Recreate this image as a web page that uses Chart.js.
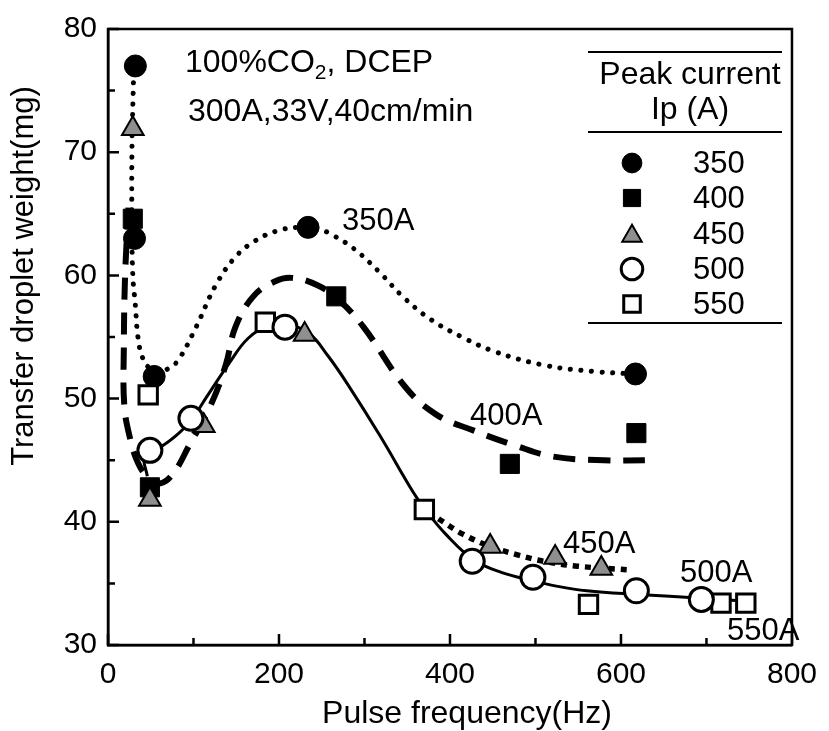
<!DOCTYPE html>
<html>
<head>
<meta charset="utf-8">
<script src="https://cdn.jsdelivr.net/npm/chart.js@4.4.1/dist/chart.umd.min.js"></script>
<style>
  html, body { margin: 0; background: #fff; }
  #wrap { width: 829px; height: 731px; position: relative; }
</style>
</head>
<body>
<div id="wrap"><canvas id="chart"></canvas></div>
<script>
// measured points, peak current series (Hz, mg)
const hz350 = [32, 31, 54, 234, 617];
const w350 = [77.0, 63.0, 51.8, 63.9, 52.0];
const hz400 = [29, 49, 267, 470, 618];
const w400 = [64.6, 42.8, 58.3, 44.7, 47.2];
const hz450 = [29, 49, 112, 230, 447, 523, 577];
const w450 = [71.9, 41.8, 47.8, 55.2, 38.0, 37.1, 36.2];
const hz500 = [49, 97, 207, 426, 497, 618, 694];
const w500 = [45.8, 48.4, 55.8, 36.8, 35.5, 34.4, 33.7];
const hz550 = [47, 184, 370, 562, 717, 746];
const w550 = [50.3, 56.2, 41.0, 33.3, 33.4, 33.4];

// fitted curves
const curveHz350 = [30, 28, 28, 29, 32, 35, 40, 48, 60, 72, 83, 103, 126, 149, 172, 197, 222, 245, 262, 287, 317, 346, 378, 414, 453, 511, 569, 617];
const curveW350 = [76.5, 70, 64, 60, 57.6, 55, 53.4, 52.5, 52.2, 52.5, 53.2, 55.8, 59.2, 61.5, 62.8, 63.6, 63.9, 63.8, 63.3, 62.2, 60.3, 58.2, 56.4, 55.0, 53.8, 52.7, 52.2, 52.0];
const curveHz400 = [24, 20, 18.5, 19, 25, 35, 48, 60, 75, 95, 121, 138, 149, 170, 195, 215, 245, 270, 299, 347, 384, 428, 476, 520, 580, 632];
const curveW400 = [65.5, 60, 54, 49.5, 47, 44.8, 43.5, 43.1, 43.8, 46.2, 49.6, 52.8, 55.8, 58.3, 59.5, 59.8, 59.2, 58, 55.8, 51, 48.7, 47.4, 46.2, 45.3, 45.0, 45.0];
const curveHz450 = [375, 392, 415, 447, 480, 509, 549, 609];
const curveW450 = [40.8, 40.0, 39.0, 38.0, 37.3, 36.8, 36.4, 36.1];
const curveHz500 = [46, 42, 50, 62, 83, 98, 115, 141, 164, 190, 210, 235, 257, 280, 318, 357, 371, 395, 428, 460, 498, 523, 560, 620, 694, 758];
const curveW500 = [43.7, 45.3, 45.8, 46.1, 47.2, 48.3, 50.1, 52.8, 54.9, 56.0, 56.0, 55.3, 53.5, 51.2, 47.0, 42.4, 41.0, 39.0, 36.9, 35.9, 35.2, 34.8, 34.4, 34.1, 33.8, 33.5];

const xTicks = [0, 200, 400, 600, 800];
const yTicks = [30, 40, 50, 60, 70, 80];
const legendLabels = ['350', '400', '450', '500', '550'];
const curveLabels = ['350A', '400A', '450A', '500A', '550A'];

const FONT = '"Liberation Sans", Arial, sans-serif';
const GREY = '#8f8f8f';
const pts = (xs, ys) => xs.map((x, i) => ({ x, y: ys[i] }));

const markers = [
  { style: 'circle', r: 11, fill: '#000', border: '#000', bw: 1 },
  { style: 'rect', r: 13.5, fill: '#000', border: '#000', bw: 1 },
  { style: 'triangle', r: 12.5, fill: GREY, border: '#000', bw: 2 },
  { style: 'circle', r: 12, fill: '#fff', border: '#000', bw: 3 },
  { style: 'rect', r: 13, fill: '#fff', border: '#000', bw: 3 }
];
// lower order is drawn on top: open circles sit over the open squares
const stackOrder = [5, 4, 3, 1, 2];
const seriesHz = [hz350, hz400, hz450, hz500, hz550];
const seriesW = [w350, w400, w450, w500, w550];

const pointSets = seriesHz.map((hz, i) => ({
  label: legendLabels[i],
  data: pts(hz, seriesW[i]),
  showLine: false,
  pointStyle: markers[i].style,
  pointRadius: markers[i].r,
  pointBackgroundColor: markers[i].fill,
  pointBorderColor: markers[i].border,
  pointBorderWidth: markers[i].bw,
  order: stackOrder[i]
}));

const curve = (hz, w, opts) => Object.assign({
  data: pts(hz, w), showLine: true, pointRadius: 0, tension: 0.4,
  borderColor: '#000', fill: false, order: 10
}, opts);

const curveSets = [
  curve(curveHz350, curveW350, { borderWidth: 5, borderDash: [0.1, 10.5], borderCapStyle: 'round' }),
  curve(curveHz400, curveW400, { borderWidth: 6, borderDash: [22, 13] }),
  curve(curveHz450, curveW450, { borderWidth: 5.5, borderDash: [6, 6] }),
  curve(curveHz500, curveW500, { borderWidth: 3 })
];

function drawMarker(ctx, m, x, y, r) {
  ctx.save();
  ctx.fillStyle = m.fill; ctx.strokeStyle = m.border; ctx.lineWidth = m.bw;
  ctx.beginPath();
  if (m.style === 'circle') ctx.arc(x, y, r, 0, Math.PI * 2);
  else if (m.style === 'rect') { const s = r * Math.SQRT1_2; ctx.rect(x - s, y - s, 2 * s, 2 * s); }
  else { ctx.moveTo(x, y - r); ctx.lineTo(x + r * 0.866, y + r / 2); ctx.lineTo(x - r * 0.866, y + r / 2); ctx.closePath(); }
  ctx.fill(); ctx.stroke();
  ctx.restore();
}

const decor = {
  id: 'decor',
  afterDraw(chart) {
    const ctx = chart.ctx, a = chart.chartArea, xs = chart.scales.x, ys = chart.scales.y;
    ctx.save();
    ctx.strokeStyle = '#000'; ctx.lineWidth = 2.5;
    ctx.strokeRect(a.left, a.top, a.right - a.left, a.bottom - a.top);

    // ticks point inward
    ctx.beginPath();
    xs.ticks.forEach(t => {
      const px = xs.getPixelForValue(t.value);
      const len = xTicks.includes(t.value) ? 11 : 7;
      ctx.moveTo(px, a.bottom); ctx.lineTo(px, a.bottom - len);
    });
    ys.ticks.forEach(t => {
      const py = ys.getPixelForValue(t.value);
      const len = yTicks.includes(t.value) ? 11 : 7;
      ctx.moveTo(a.left, py); ctx.lineTo(a.left + len, py);
    });
    ctx.stroke();

    ctx.fillStyle = '#000';
    ctx.textBaseline = 'alphabetic';
    ctx.textAlign = 'left';
    ctx.font = '32px ' + FONT;

    // conditions
    let x = 185;
    ctx.fillText('100%CO', x, 72); x += ctx.measureText('100%CO').width;
    ctx.font = '21px ' + FONT;
    ctx.fillText('2', x, 79); x += ctx.measureText('2').width;
    ctx.font = '32px ' + FONT;
    ctx.fillText(', DCEP', x, 72);
    ctx.fillText('300A,33V,40cm/min', 188, 121);

    // curve labels
    ctx.font = '31px ' + FONT;
    const lblPos = [[342, 230], [470, 425], [563, 553], [680, 582], [727, 640]];
    curveLabels.forEach((t, i) => ctx.fillText(t, lblPos[i][0], lblPos[i][1]));

    // legend table
    ctx.font = '32px ' + FONT;
    ctx.lineWidth = 2;
    ctx.beginPath();
    [52, 132, 323].forEach(y => { ctx.moveTo(588, y); ctx.lineTo(782, y); });
    ctx.stroke();
    ctx.textAlign = 'center';
    ctx.fillText('Peak current', 690, 84);
    ctx.fillText('Ip (A)', 690, 119);
    ctx.font = '31px ' + FONT;
    ctx.textAlign = 'left';
    ctx.textBaseline = 'middle';
    const rowY = [163, 198, 234, 269, 304];
    legendLabels.forEach((t, i) => {
      drawMarker(ctx, markers[i], 632, rowY[i] + (markers[i].style === 'triangle' ? 2 : 0), markers[i].r * 0.9);
      ctx.fillText(t, 693, rowY[i] + 1);
    });

    // axis titles
    ctx.font = '32px ' + FONT;
    ctx.textAlign = 'center';
    ctx.fillText('Pulse frequency(Hz)', 467, 714);
    ctx.font = '31px ' + FONT;
    ctx.translate(24, 276);
    ctx.rotate(-Math.PI / 2);
    ctx.fillText('Transfer droplet weight(mg)', 0, 0);
    ctx.restore();
  }
};

new Chart(document.getElementById('chart'), {
  type: 'scatter',
  data: { datasets: [...pointSets, ...curveSets] },
  options: {
    responsive: true, maintainAspectRatio: false, animation: false,
    layout: { padding: { left: 0, right: 29, top: 21, bottom: 0 } },
    plugins: { legend: { display: false }, tooltip: { enabled: false } },
    scales: {
      x: {
        type: 'linear', min: 0, max: 800,
        afterFit: s => { s.height = 86; },
        grid: { display: false, drawTicks: false },
        border: { display: true, color: '#000', width: 2.5 },
        ticks: {
          stepSize: 100, autoSkip: false, maxRotation: 0, padding: 12, color: '#000',
          font: { family: FONT, size: 30 },
          callback: v => xTicks.includes(v) ? String(v) : ''
        }
      },
      y: {
        type: 'linear', min: 30, max: 80,
        afterFit: s => { s.width = 108; },
        grid: { display: false, drawTicks: false },
        border: { display: true, color: '#000', width: 2.5 },
        ticks: {
          stepSize: 5, autoSkip: false, padding: 11, color: '#000',
          font: { family: FONT, size: 30 },
          callback: v => yTicks.includes(v) ? String(v) : ''
        }
      }
    }
  },
  plugins: [decor]
});
</script>
</body>
</html>
